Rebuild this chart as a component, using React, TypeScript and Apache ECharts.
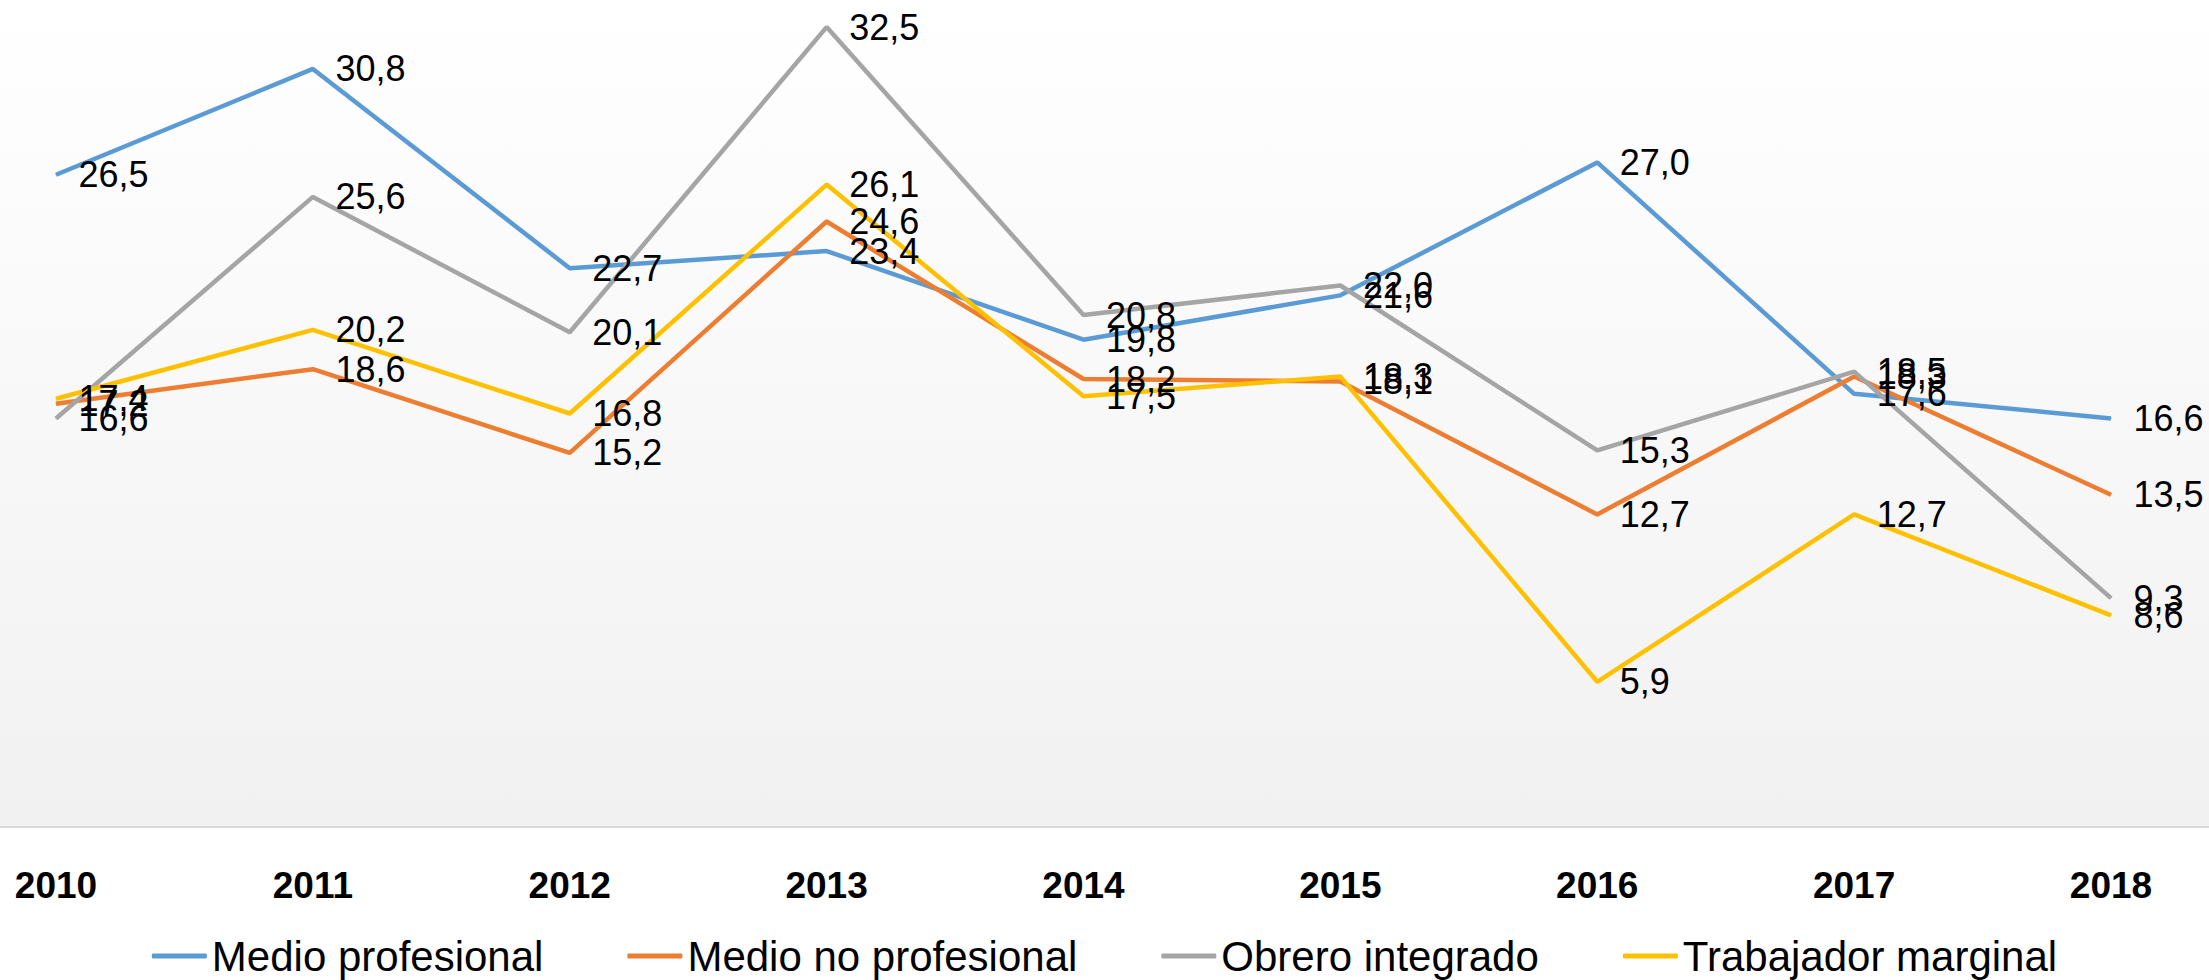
import React, { useEffect, useRef } from "react";
import * as echarts from "echarts";

const years = ["2010", "2011", "2012", "2013", "2014", "2015", "2016", "2017", "2018"];
const medioProfesional = [26.5, 30.8, 22.7, 23.4, 19.8, 21.6, 27.0, 17.6, 16.6];
const medioNoProfesional = [17.2, 18.6, 15.2, 24.6, 18.2, 18.1, 12.7, 18.3, 13.5];
const obreroIntegrado = [16.6, 25.6, 20.1, 32.5, 20.8, 22.0, 15.3, 18.5, 9.3];
const trabajadorMarginal = [17.4, 20.2, 16.8, 26.1, 17.5, 18.3, 5.9, 12.7, 8.6];

const seriesDefs = [
  { name: "Medio profesional", data: medioProfesional, color: "#5B9BD5" },
  { name: "Medio no profesional", data: medioNoProfesional, color: "#ED7D31" },
  { name: "Obrero integrado", data: obreroIntegrado, color: "#A5A5A5" },
  { name: "Trabajador marginal", data: trabajadorMarginal, color: "#FFC000" },
];

const FONT = "'Liberation Sans', Arial, sans-serif";

export default function App() {
  const ref = useRef<HTMLDivElement>(null);
  useEffect(() => {
    if (!ref.current) return;
    const chart = echarts.init(ref.current, null, { renderer: "svg" });
    chart.setOption({
      animation: false,
      backgroundColor: "#ffffff",
      graphic: [
        {
          type: "rect",
          z: -10,
          silent: true,
          shape: { x: 0, y: 0, width: 2209, height: 827 },
          style: {
            fill: new echarts.graphic.LinearGradient(0, 0, 0, 1, [
              { offset: 0, color: "#ffffff" },
              { offset: 1, color: "#f1f1f1" },
            ]),
          },
        },
        {
          type: "line",
          z: -5,
          silent: true,
          shape: { x1: 0, y1: 827, x2: 2209, y2: 827 },
          style: { stroke: "#d9d9d9", lineWidth: 2 },
        },
      ],
      grid: { left: 56, right: 98, top: 0, bottom: 153, containLabel: false },
      legend: {
        data: seriesDefs.map((s) => ({ name: s.name, icon: "roundRect" })),
        left: "center",
        top: 930,
        itemWidth: 55,
        itemHeight: 5,
        itemGap: 84,
        textStyle: {
          fontFamily: FONT,
          fontSize: 42,
          lineHeight: 42,
          color: "#000000",
        },
      },
      xAxis: {
        type: "category",
        data: years,
        boundaryGap: false,
        axisLine: { show: false },
        axisTick: { show: false },
        axisLabel: {
          margin: 40,
          fontFamily: FONT,
          fontWeight: "bold",
          fontSize: 37,
          lineHeight: 37,
          color: "#000000",
        },
        splitLine: { show: false },
      },
      yAxis: {
        type: "value",
        min: 0,
        max: 33.6,
        show: false,
        splitLine: { show: false },
      },
      series: seriesDefs.map((s) => ({
        name: s.name,
        type: "line",
        data: s.data,
        symbol: "circle",
        symbolSize: 1,
        showSymbol: true,
        color: s.color,
        lineStyle: { color: s.color, width: 4.5 },
        itemStyle: { color: s.color },
        label: {
          show: true,
          position: "right",
          distance: 22,
          fontFamily: FONT,
          fontSize: 36,
          color: "#000000",
          formatter: (p: any) => Number(p.value).toFixed(1).replace(".", ","),
        },
      })),
    });
    return () => chart.dispose();
  }, []);
  return (
    <div
      ref={ref}
      style={{ position: "fixed", left: 0, top: 0, width: 2209, height: 980 }}
    />
  );
}
